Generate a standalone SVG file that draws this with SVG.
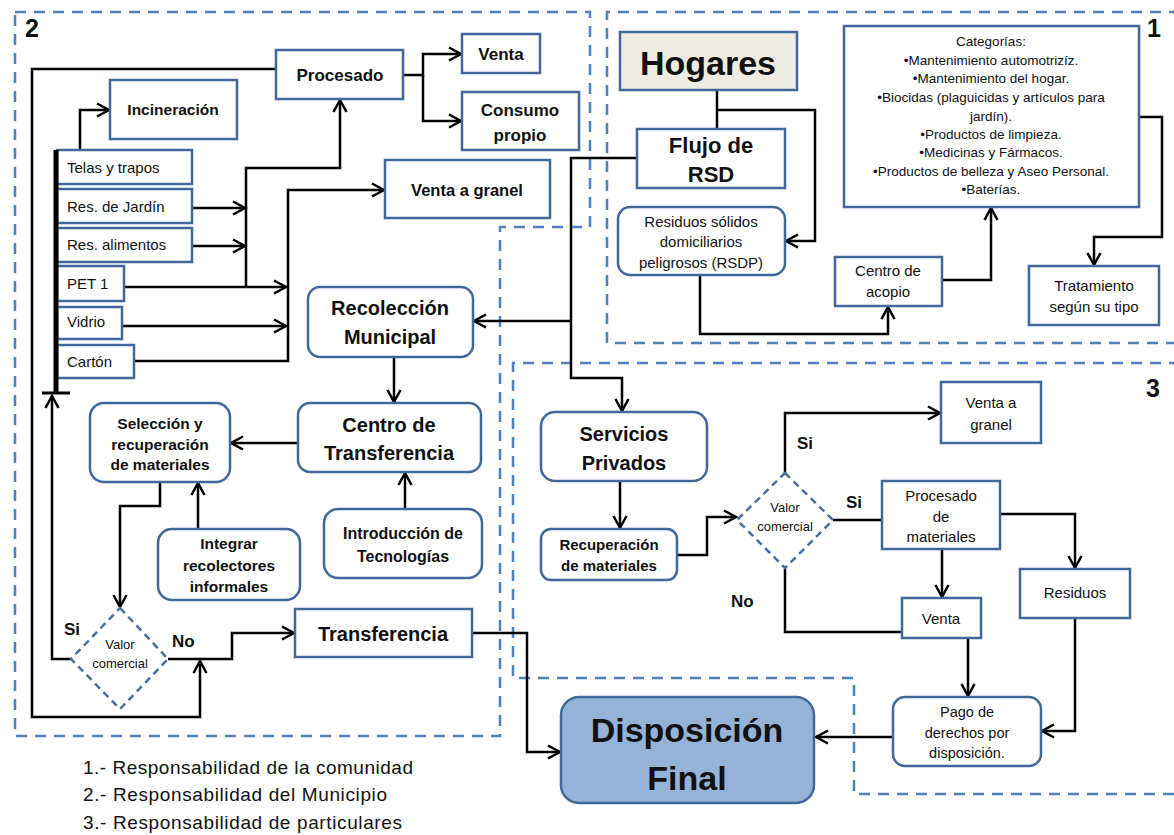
<svg xmlns="http://www.w3.org/2000/svg" width="1174" height="835" viewBox="0 0 1174 835">
<defs>
<marker id="a" markerUnits="userSpaceOnUse" markerWidth="16" markerHeight="16" refX="13" refY="8" orient="auto">
<path d="M1,1.5 L13,8 L1,14.5" fill="none" stroke="#000" stroke-width="2.5"/>
</marker>
<style>
.bx{fill:#fff;stroke:#41689a;stroke-width:2.5}
.rg{fill:none;stroke:#4f81bd;stroke-width:2.5;stroke-dasharray:11 8}
.dm{fill:#fff;stroke:#4a6f9a;stroke-width:2.5;stroke-dasharray:7 5}
.c path{fill:none;stroke:#000;stroke-width:2.5}
.c .ar{marker-end:url(#a)}
text{font-family:"Liberation Sans",Arial,sans-serif;fill:#111;text-anchor:middle}
.b{font-weight:bold}
.s15{font-size:15px}
.s17{font-size:17px}
.s20{font-size:20px}
.s34{font-size:34px}
.lf{text-anchor:start}
</style>
</defs>
<rect width="1174" height="835" fill="#fff"/>

<g id="regions">
<path class="rg" d="M15,12 H590 V227 H500 V736 H15 Z"/>
<path class="rg" d="M1180,12 H607 V343 H1180"/>
<path class="rg" d="M1180,363 H513 V678 H854 V794 H1180"/>
<text class="b lf" x="25" y="37" font-size="25">2</text>
<text class="b lf" x="1147" y="37" font-size="25">1</text>
<text class="b lf" x="1146" y="397" font-size="25">3</text>
</g>

<g class="c" id="connectors">
<path class="ar" d="M403,75 H423 V54 H461"/>
<path class="ar" d="M423,75 V121 H461"/>
<path class="ar" d="M276,69 H32 V717 H200 V661"/>
<path class="ar" d="M80,150 V110 H109"/>
<path class="ar" d="M192,208 H245"/>
<path class="ar" d="M192,246 H245"/>
<path class="ar" d="M246,287 V168 H340 V100"/>
<path class="ar" d="M124,287 H286"/>
<path class="ar" d="M122,326 H286"/>
<path class="ar" d="M134,361 H288 V190 H384"/>
<path class="ar" d="M71,659 H52 V396"/>
<path class="ar" d="M571,321 H474"/>
<path class="ar" d="M637,158 H571 V378 H622 V411"/>
<path class="ar" d="M394,357 V402"/>
<path class="ar" d="M298,443 H231"/>
<path class="ar" d="M405,509 V473"/>
<path class="ar" d="M198,529 V483"/>
<path class="ar" d="M160,482 V506 H120 V607"/>
<path class="ar" d="M168,659 H232 V633 H294"/>
<path class="ar" d="M472,633 H527 V752 H560"/>
<path d="M717,90 V129"/>
<path class="ar" d="M717,110 H815 V241 H786"/>
<path class="ar" d="M700,275 V334 H888 V307"/>
<path class="ar" d="M942,280 H991 V208"/>
<path class="ar" d="M1139,117 H1162 V237 H1094 V265"/>
<path class="ar" d="M620,481 V528"/>
<path class="ar" d="M677,555 H707 V517 H736"/>
<path class="ar" d="M785,473 V413 H940"/>
<path d="M833,520 H882"/>
<path class="ar" d="M942,549 V597"/>
<path class="ar" d="M1000,514 H1075 V568"/>
<path d="M785,568 V632 H902"/>
<path class="ar" d="M968,638 V696"/>
<path class="ar" d="M1075,618 V731 H1042"/>
<path class="ar" d="M893,737 H816"/>
</g>

<g id="procesado"><rect class="bx" x="276" y="50" width="127" height="49"/><text class="b s17" x="340" y="81">Procesado</text></g>
<g id="venta2"><rect class="bx" x="462" y="34" width="78" height="39"/><text class="b s17" x="501" y="60">Venta</text></g>
<g id="consumo"><rect class="bx" x="462" y="92" width="117" height="58"/><text class="b s17" x="520" y="116">Consumo</text><text class="b s17" x="520" y="141">propio</text></g>
<g id="ventagranel2"><rect class="bx" x="385" y="160" width="165" height="58"/><text class="b" font-size="16.5" x="467" y="196">Venta a granel</text></g>
<g id="incineracion"><rect class="bx" x="110" y="80" width="127" height="59"/><text class="b" font-size="15.5" x="173" y="115">Incineración</text></g>
<g id="telas"><rect class="bx" x="57" y="150" width="135" height="34"/><text class="s15 lf" x="67" y="173">Telas y trapos</text></g>
<g id="jardin"><rect class="bx" x="57" y="189" width="135" height="34"/><text class="s15 lf" x="67" y="212">Res. de Jardín</text></g>
<g id="alimentos"><rect class="bx" x="57" y="228" width="135" height="34"/><text class="s15 lf" x="67" y="250">Res. alimentos</text></g>
<g id="pet"><rect class="bx" x="57" y="266" width="67" height="35"/><text class="s15 lf" x="67" y="289">PET 1</text></g>
<g id="vidrio"><rect class="bx" x="57" y="307" width="65" height="32"/><text class="s15 lf" x="67" y="327">Vidrio</text></g>
<g id="carton"><rect class="bx" x="57" y="345" width="77" height="33"/><text class="s15 lf" x="67" y="367">Cartón</text></g>
<g id="bar" class="c">
<path d="M56,150 V393" style="stroke-width:5"/>
<path d="M42,393 H70" style="stroke-width:3"/>
</g>
<g id="recoleccion"><rect class="bx" x="308" y="287" width="165" height="70" rx="12"/><text class="b s20" x="390" y="315">Recolección</text><text class="b s20" x="390" y="344">Municipal</text></g>
<g id="centrotransferencia"><rect class="bx" x="298" y="403" width="183" height="69" rx="12"/><text class="b s20" x="389" y="432">Centro de</text><text class="b s20" x="389" y="460">Transferencia</text></g>
<g id="seleccion"><rect class="bx" x="90" y="403" width="140" height="79" rx="14"/><text class="b" font-size="15.5" x="160" y="428.5">Selección y</text><text class="b" font-size="15.5" x="160" y="449.5">recuperación</text><text class="b" font-size="15.5" x="160" y="469.5">de materiales</text></g>
<g id="introduccion"><rect class="bx" x="324" y="509" width="158" height="69" rx="14"/><text class="b" font-size="16" x="403" y="538.5">Introducción de</text><text class="b" font-size="16" x="403" y="561.5">Tecnologías</text></g>
<g id="integrar"><rect class="bx" x="158" y="529" width="142" height="71" rx="14"/><text class="b" font-size="15.5" x="229" y="548.5">Integrar</text><text class="b" font-size="15.5" x="229" y="570.5">recolectores</text><text class="b" font-size="15.5" x="229" y="591.5">informales</text></g>
<g id="transferencia"><rect class="bx" x="295" y="609" width="177" height="48"/><text class="b s20" x="383" y="641">Transferencia</text></g>
<g id="valor2"><polygon class="dm" points="120,608 168,659 120,709 71,659"/><text font-size="13" x="120" y="648.5">Valor</text><text font-size="13" x="120" y="667.5">comercial</text></g>
<g id="labels2"><text class="b s17 lf" x="64" y="635">Si</text><text class="b s17 lf" x="172" y="647">No</text></g>

<g id="hogares"><rect x="620" y="32" width="177" height="58" fill="#eeece1" stroke="#41689a" stroke-width="2.5"/><text class="b s34" x="708" y="75">Hogares</text></g>
<g id="flujo"><rect class="bx" x="637" y="129" width="148" height="59"/><text class="b" font-size="22" x="711" y="153">Flujo de</text><text class="b" font-size="22" x="711" y="182">RSD</text></g>
<g id="rsdp"><rect class="bx" x="618" y="207" width="167" height="68" rx="12"/><text class="s15" x="701" y="227">Residuos sólidos</text><text class="s15" x="701" y="247">domiciliarios</text><text class="s15" x="701" y="268">peligrosos (RSDP)</text></g>
<g id="categorias"><rect class="bx" x="844" y="26" width="295" height="181"/>
<text font-size="13.5" x="991" y="46">Categorías:</text>
<text font-size="13.5" x="991" y="65">•Mantenimiento automotrizíz.</text>
<text font-size="13.5" x="991" y="83">•Mantenimiento del hogar.</text>
<text font-size="13.5" x="991" y="102">•Biocidas (plaguicidas y artículos para</text>
<text font-size="13.5" x="991" y="121">jardín).</text>
<text font-size="13.5" x="991" y="139">•Productos de limpieza.</text>
<text font-size="13.5" x="991" y="157">•Medicinas y Fármacos.</text>
<text font-size="13.5" x="991" y="176">•Productos de belleza y Aseo Personal.</text>
<text font-size="13.5" x="991" y="194">•Baterías.</text>
</g>
<g id="acopio"><rect class="bx" x="835" y="257" width="107" height="49"/><text class="s15" x="888" y="276">Centro de</text><text class="s15" x="888" y="297">acopio</text></g>
<g id="tratamiento"><rect class="bx" x="1029" y="266" width="130" height="59"/><text class="s15" x="1094" y="291">Tratamiento</text><text class="s15" x="1094" y="312">según su tipo</text></g>

<g id="servicios"><rect class="bx" x="541" y="412" width="166" height="69" rx="14"/><text class="b s20" x="624" y="441">Servicios</text><text class="b s20" x="624" y="470">Privados</text></g>
<g id="recuperacion"><rect class="bx" x="541" y="529" width="136" height="51" rx="10"/><text class="b s15" x="609" y="550">Recuperación</text><text class="b s15" x="609" y="571">de materiales</text></g>
<g id="valor3"><polygon class="dm" points="785,473 833,520 785,568 737,520"/><text font-size="13" x="785" y="511.5">Valor</text><text font-size="13" x="785" y="530.5">comercial</text></g>
<g id="labels3"><text class="b s17 lf" x="797" y="449">Si</text><text class="b s17 lf" x="846" y="508">Si</text><text class="b s17 lf" x="731" y="607">No</text></g>
<g id="ventagranel3"><rect class="bx" x="941" y="382" width="100" height="61"/><text class="s15" x="991" y="408">Venta a</text><text class="s15" x="991" y="430">granel</text></g>
<g id="procesadomat"><rect class="bx" x="882" y="481" width="118" height="68"/><text class="s15" x="941" y="501">Procesado</text><text class="s15" x="941" y="522">de</text><text class="s15" x="941" y="542">materiales</text></g>
<g id="residuos"><rect class="bx" x="1020" y="569" width="110" height="49"/><text class="s15" x="1075" y="598">Residuos</text></g>
<g id="venta3"><rect class="bx" x="902" y="598" width="79" height="40"/><text class="s15" x="941" y="624">Venta</text></g>
<g id="pago"><rect class="bx" x="893" y="697" width="148" height="69" rx="12"/><text font-size="14.5" x="967" y="717">Pago de</text><text font-size="14.5" x="967" y="738">derechos por</text><text font-size="14.5" x="967" y="758">disposición.</text></g>
<g id="disposicion"><rect x="561" y="697" width="253" height="106" rx="18" fill="#95b3d7" stroke="#41689a" stroke-width="2.5"/><text class="b s34" x="687" y="742">Disposición</text><text class="b s34" x="687" y="790">Final</text></g>

<g id="legend">
<text class="lf" font-size="19" x="83" y="774" textLength="330">1.- Responsabilidad de la comunidad</text>
<text class="lf" font-size="19" x="83" y="801" textLength="304">2.- Responsabilidad del Municipio</text>
<text class="lf" font-size="19" x="83" y="829" textLength="319">3.- Responsabilidad de particulares</text>
</g>
</svg>
